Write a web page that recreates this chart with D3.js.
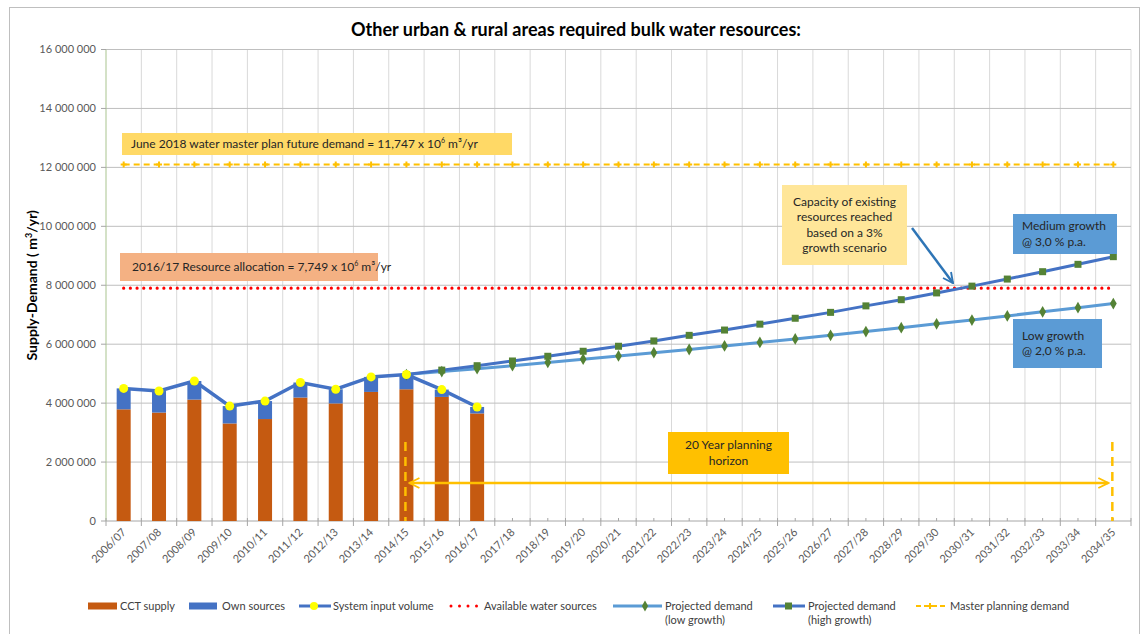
<!DOCTYPE html>
<html>
<head>
<meta charset="utf-8">
<script src="https://cdn.jsdelivr.net/npm/d3@7"></script>
<style>
  body { margin: 0; background: #fff; }
  svg text { font-family: Lato, "Open Sans", sans-serif; }
</style>
</head>
<body>
<div id="chart"></div>
<script>
// ========================================
// ======= Bulk water supply/demand =======
// ========================================

var categories = ["2006/07", "2007/08", "2008/09", "2009/10", "2010/11", "2011/12", "2012/13",
  "2013/14", "2014/15", "2015/16", "2016/17", "2017/18", "2018/19", "2019/20", "2020/21",
  "2021/22", "2022/23", "2023/24", "2024/25", "2025/26", "2026/27", "2027/28", "2028/29",
  "2029/30", "2030/31", "2031/32", "2032/33", "2033/34", "2034/35"];

// historic years (bars)
var histYears = categories.slice(0, 11);
var cctSupply = [3790000, 3680000, 4120000, 3310000, 3460000, 4190000, 3990000, 4380000, 4470000, 4210000, 3650000];
var ownSources = [710000, 730000, 630000, 590000, 610000, 510000, 480000, 510000, 500000, 250000, 220000];
var systemInput = [4500000, 4410000, 4750000, 3900000, 4070000, 4700000, 4470000, 4890000, 4970000, 4460000, 3870000];

// projections from 2014/15
var projYears = categories.slice(8);
var lowGrowth = [4970000, 5070000, 5170000, 5270000, 5380000, 5490000, 5600000, 5710000, 5820000, 5940000, 6060000,
  6180000, 6300000, 6430000, 6560000, 6690000, 6820000, 6960000, 7100000, 7240000, 7380000];
var highGrowth = [4970000, 5120000, 5270000, 5430000, 5590000, 5760000, 5930000, 6110000, 6300000, 6480000, 6680000,
  6880000, 7080000, 7300000, 7510000, 7740000, 7970000, 8210000, 8460000, 8710000, 8970000];

var availableWater = 7900000;
var masterDemand = 12100000;

var yTicks = [0, 2000000, 4000000, 6000000, 8000000, 10000000, 12000000, 14000000, 16000000];

// ---- layout ----
var W = 1145, H = 634;
var plotL = 106, plotR = 1131, plotT = 49.5, plotB = 521;

var svg = d3.select("#chart").append("svg")
  .attr("width", W)
  .attr("height", H);

// outer frame
svg.append("rect")
  .attr("x", 9.5).attr("y", 7.5)
  .attr("width", 1130).attr("height", 640)
  .attr("fill", "none").attr("stroke", "#bfbfbf");

var x = d3.scaleBand().domain(categories).range([plotL, plotR]).padding(0);
var y = d3.scaleLinear().domain([0, 16000000]).range([plotB, plotT]);
var cx = function(c) { return x(c) + x.bandwidth() / 2; };

var fmt = d3.formatLocale({ thousands: " ", grouping: [3], decimal: ".", currency: ["", ""] }).format(",");

// Title
svg.append("text")
  .attr("x", 576).attr("y", 36)
  .attr("text-anchor", "middle")
  .attr("font-size", "18px").attr("font-weight", "bold")
  .attr("fill", "#000")
  .text("Other urban & rural areas required bulk water resources:");

// Gridlines
var grid = svg.append("g");
grid.selectAll(".vg")
  .data(categories.slice(1).map(function(c) { return x(c); }).concat([plotR]))
  .enter().append("line")
  .attr("x1", function(d) { return d; }).attr("x2", function(d) { return d; })
  .attr("y1", plotT).attr("y2", plotB)
  .attr("stroke", "#d9d9d9").attr("stroke-width", 1);
grid.selectAll(".hg")
  .data(yTicks.slice(1))
  .enter().append("line")
  .attr("x1", plotL).attr("x2", plotR)
  .attr("y1", function(d) { return y(d); }).attr("y2", function(d) { return y(d); })
  .attr("stroke", "#bfbfbf").attr("stroke-width", 1);

// Y axis
var yAx = svg.append("g");
yAx.append("line")
  .attr("x1", plotL).attr("x2", plotL).attr("y1", plotT).attr("y2", plotB)
  .attr("stroke", "#a9c48f").attr("stroke-width", 1);
yAx.selectAll(".yt").data(yTicks).enter().append("line")
  .attr("x1", plotL - 5).attr("x2", plotL)
  .attr("y1", function(d) { return y(d); }).attr("y2", function(d) { return y(d); })
  .attr("stroke", "#a6a6a6");
yAx.selectAll(".yl").data(yTicks).enter().append("text")
  .attr("x", plotL - 10).attr("y", function(d) { return y(d); })
  .attr("dy", "0.35em").attr("text-anchor", "end")
  .attr("font-size", "11px").attr("fill", "#595959")
  .text(function(d) { return fmt(d); });

svg.append("text")
  .attr("transform", "translate(37," + ((plotT + plotB) / 2) + ") rotate(-90)")
  .attr("text-anchor", "middle")
  .attr("font-size", "14px").attr("font-weight", "bold").attr("fill", "#000")
  .html("Supply-Demand ( m<tspan font-size='9px' dy='-5'>3</tspan><tspan dy='5'>/yr)</tspan>");

// X axis
var xAx = svg.append("g");
xAx.append("line")
  .attr("x1", plotL).attr("x2", plotR).attr("y1", plotB).attr("y2", plotB)
  .attr("stroke", "#a6a6a6");
xAx.selectAll(".xt").data(categories.map(function(c) { return x(c); }).concat([plotR]))
  .enter().append("line")
  .attr("x1", function(d) { return d; }).attr("x2", function(d) { return d; })
  .attr("y1", plotB - 3).attr("y2", plotB + 5)
  .attr("stroke", "#a6a6a6");
xAx.selectAll(".xm").data(categories).enter().append("line")
  .attr("x1", cx).attr("x2", cx)
  .attr("y1", plotB - 3).attr("y2", plotB)
  .attr("stroke", "#a6a6a6");
xAx.selectAll(".xl").data(categories).enter().append("text")
  .attr("transform", function(c) { return "translate(" + (cx(c) + 3) + "," + (plotB + 12) + ") rotate(-45)"; })
  .attr("text-anchor", "end")
  .attr("font-size", "11px").attr("fill", "#595959")
  .text(function(c) { return c; });

// Bars (stacked)
var barW = 14;
var bars = svg.append("g");
bars.selectAll(".cct").data(histYears).enter().append("rect")
  .attr("x", function(c) { return cx(c) - barW / 2; })
  .attr("y", function(c, i) { return y(cctSupply[i]); })
  .attr("width", barW)
  .attr("height", function(c, i) { return plotB - y(cctSupply[i]); })
  .attr("fill", "#c55a11");
bars.selectAll(".own").data(histYears).enter().append("rect")
  .attr("x", function(c) { return cx(c) - barW / 2; })
  .attr("y", function(c, i) { return y(cctSupply[i] + ownSources[i]); })
  .attr("width", barW)
  .attr("height", function(c, i) { return y(cctSupply[i]) - y(cctSupply[i] + ownSources[i]); })
  .attr("fill", "#4472c4");

// Master planning demand (dashed)
svg.append("line")
  .attr("x1", cx(categories[0])).attr("x2", cx(categories[categories.length - 1]))
  .attr("y1", y(masterDemand)).attr("y2", y(masterDemand))
  .attr("stroke", "#ffc000").attr("stroke-width", 2).attr("stroke-dasharray", "6,4");
svg.selectAll(".mp").data(categories).enter().append("path")
  .attr("d", d3.symbol().type(d3.symbolCross).size(20))
  .attr("transform", function(c) { return "translate(" + cx(c) + "," + y(masterDemand) + ")"; })
  .attr("fill", "#ffc000");

// Available water sources (red dots)
svg.append("line")
  .attr("x1", cx(categories[0])).attr("x2", cx(categories[categories.length - 1]))
  .attr("y1", y(availableWater)).attr("y2", y(availableWater))
  .attr("stroke", "#ff0000").attr("stroke-width", 3.2)
  .attr("stroke-linecap", "round").attr("stroke-dasharray", "0,6.7");

// Projected demand lines
var line = d3.line().x(function(d) { return cx(d[0]); }).y(function(d) { return y(d[1]); });
var lowPts = projYears.map(function(c, i) { return [c, lowGrowth[i]]; });
var highPts = projYears.map(function(c, i) { return [c, highGrowth[i]]; });

svg.append("path").datum(lowPts).attr("d", line)
  .attr("fill", "none").attr("stroke", "#5b9bd5").attr("stroke-width", 3);
svg.append("path").datum(highPts).attr("d", line)
  .attr("fill", "none").attr("stroke", "#4472c4").attr("stroke-width", 3);
svg.selectAll(".lowm").data(lowPts).enter().append("path")
  .attr("d", d3.symbol().type(d3.symbolDiamond).size(40))
  .attr("transform", function(d) { return "translate(" + cx(d[0]) + "," + y(d[1]) + ")"; })
  .attr("fill", "#548235");
svg.selectAll(".highm").data(highPts).enter().append("rect")
  .attr("x", function(d) { return cx(d[0]) - 3.5; })
  .attr("y", function(d) { return y(d[1]) - 3.5; })
  .attr("width", 7).attr("height", 7)
  .attr("fill", "#548235");

// System input volume
var sysPts = histYears.map(function(c, i) { return [c, systemInput[i]]; });
svg.append("path").datum(sysPts).attr("d", line)
  .attr("fill", "none").attr("stroke", "#4472c4").attr("stroke-width", 3.5);
svg.selectAll(".sysm").data(sysPts).enter().append("circle")
  .attr("cx", function(d) { return cx(d[0]); })
  .attr("cy", function(d) { return y(d[1]); })
  .attr("r", 4.5).attr("fill", "#ffff00");

// Arrow heads
var defs = svg.append("defs");
function arrowHead(id, color) {
  defs.append("marker")
    .attr("id", id).attr("viewBox", "0 0 10 10")
    .attr("refX", 9).attr("refY", 5)
    .attr("markerWidth", 5).attr("markerHeight", 5)
    .attr("markerUnits", "strokeWidth")
    .attr("orient", "auto-start-reverse")
    .append("path").attr("d", "M1,1 L9,5 L1,9")
    .attr("fill", "none").attr("stroke", color).attr("stroke-width", 1.5);
}
arrowHead("arrOrange", "#ffc000");
arrowHead("arrBlue", "#2e75b6");

// 20 year planning horizon
var hStart = categories[8], hEnd = categories[28];
[hStart, hEnd].forEach(function(c) {
  svg.append("line")
    .attr("x1", cx(c) - 1).attr("x2", cx(c) - 1)
    .attr("y1", 442).attr("y2", plotB)
    .attr("stroke", "#ffc000").attr("stroke-width", 2.5).attr("stroke-dasharray", "9,6");
});
svg.append("line")
  .attr("x1", cx(hStart) + 3).attr("x2", cx(hEnd) - 5)
  .attr("y1", 483).attr("y2", 483)
  .attr("stroke", "#ffc000").attr("stroke-width", 2.5)
  .attr("marker-start", "url(#arrOrange)").attr("marker-end", "url(#arrOrange)");

// Capacity arrow
svg.append("line")
  .attr("x1", 912).attr("y1", 228).attr("x2", 953).attr("y2", 283)
  .attr("stroke", "#2e75b6").attr("stroke-width", 2.5)
  .attr("marker-end", "url(#arrBlue)");

// Annotation boxes
var notes = [
  { x: 122, y: 133, w: 390, h: 22, fill: "#ffd966", size: 12, anchor: "start", tx: 131,
    lines: ["June 2018 water master plan future demand = 11,747 x 10<tspan font-size='7px' dy='-5'>6</tspan><tspan dy='5'> m³/yr</tspan>"] },
  { x: 120, y: 253, w: 258, h: 28, fill: "#f4b183", size: 12, anchor: "start", tx: 132,
    lines: ["2016/17 Resource allocation = 7,749 x 10<tspan font-size='7px' dy='-5'>6</tspan><tspan dy='5'> m³/yr</tspan>"] },
  { x: 782, y: 185, w: 125, h: 80, fill: "#ffe699", size: 12, anchor: "middle",
    lines: ["Capacity of existing", "resources reached", "based on a 3%", "growth scenario"] },
  { x: 1013, y: 214, w: 104, h: 40, fill: "#5b9bd5", size: 12, anchor: "start", tx: 1022,
    lines: ["Medium growth", "@ 3,0 % p.a."] },
  { x: 1013, y: 319, w: 89, h: 49, fill: "#5b9bd5", size: 12, anchor: "start", tx: 1022,
    lines: ["Low growth", "@ 2,0 % p.a."] },
  { x: 668, y: 432, w: 121, h: 42, fill: "#ffc000", size: 12, anchor: "middle",
    lines: ["20 Year planning", "horizon"] }
];
notes.forEach(function(n) {
  svg.append("rect")
    .attr("x", n.x).attr("y", n.y).attr("width", n.w).attr("height", n.h)
    .attr("fill", n.fill);
  var lh = 15.5;
  var y0 = n.y + n.h / 2 - (n.lines.length - 1) * lh / 2;
  n.lines.forEach(function(t, i) {
    svg.append("text")
      .attr("x", n.anchor == "middle" ? n.x + n.w / 2 : n.tx)
      .attr("y", y0 + i * lh).attr("dy", "0.35em")
      .attr("text-anchor", n.anchor)
      .attr("font-size", n.size + "px").attr("fill", "#262626")
      .html(t);
  });
});

// Legend
var ly = 606;
var lg = svg.append("g").attr("font-size", "11px");
function legText(x0, t, dy) {
  lg.append("text").attr("x", x0).attr("y", ly + (dy || 0)).attr("dy", "0.35em")
    .attr("fill", "#404040").text(t);
}
lg.append("rect").attr("x", 88).attr("y", ly - 3.5).attr("width", 29).attr("height", 7).attr("fill", "#c55a11");
legText(120, "CCT supply");
lg.append("rect").attr("x", 189).attr("y", ly - 3.5).attr("width", 28).attr("height", 7).attr("fill", "#4472c4");
legText(222, "Own sources");
lg.append("line").attr("x1", 299).attr("x2", 331).attr("y1", ly).attr("y2", ly)
  .attr("stroke", "#4472c4").attr("stroke-width", 3);
lg.append("circle").attr("cx", 314).attr("cy", ly).attr("r", 4).attr("fill", "#ffff00");
legText(333, "System input volume");
lg.append("line").attr("x1", 451).attr("x2", 478).attr("y1", ly).attr("y2", ly)
  .attr("stroke", "#ff0000").attr("stroke-width", 3)
  .attr("stroke-linecap", "round").attr("stroke-dasharray", "0,8.5");
legText(484, "Available water sources");
lg.append("line").attr("x1", 613).attr("x2", 662).attr("y1", ly).attr("y2", ly)
  .attr("stroke", "#5b9bd5").attr("stroke-width", 3);
lg.append("path").attr("d", d3.symbol().type(d3.symbolDiamond).size(34))
  .attr("transform", "translate(645," + ly + ")").attr("fill", "#548235");
legText(665, "Projected demand");
legText(665, "(low growth)", 14);
lg.append("line").attr("x1", 773).attr("x2", 805).attr("y1", ly).attr("y2", ly)
  .attr("stroke", "#4472c4").attr("stroke-width", 3);
lg.append("rect").attr("x", 785).attr("y", ly - 3.5).attr("width", 7).attr("height", 7).attr("fill", "#548235");
legText(808, "Projected demand");
legText(808, "(high growth)", 14);
lg.append("line").attr("x1", 916).attr("x2", 946).attr("y1", ly).attr("y2", ly)
  .attr("stroke", "#ffc000").attr("stroke-width", 2).attr("stroke-dasharray", "5,3");
lg.append("path").attr("d", d3.symbol().type(d3.symbolCross).size(20))
  .attr("transform", "translate(930," + ly + ")").attr("fill", "#ffc000");
legText(950, "Master planning demand");
</script>
</body>
</html>
